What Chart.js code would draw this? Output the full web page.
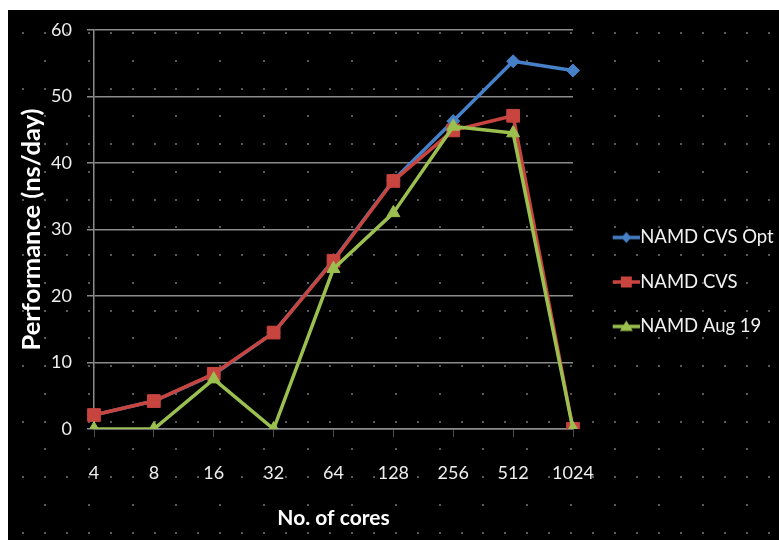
<!DOCTYPE html>
<html>
<head>
<meta charset="utf-8">
<script src="https://cdn.jsdelivr.net/npm/chart.js@4/dist/chart.umd.min.js"></script>
<style>
  html, body { margin: 0; padding: 0; background: #ffffff; }
  #frame { position: absolute; left: 8px; top: 10px; width: 771px; height: 530px; background: #000000; }
  canvas { display: block; }
</style>
</head>
<body>
<div id="frame"><canvas id="chart" width="771" height="530"></canvas></div>
<script>
// Core counts on the x axis
const coreCounts = ['4', '8', '16', '32', '64', '128', '256', '512', '1024'];

// Performance in ns/day for each build
const seriesNames = ['NAMD CVS Opt', 'NAMD CVS', 'NAMD Aug 19'];
const namdCvsOpt = [2.1, 4.2, 8.2, 14.5, 25.4, 37.4, 46.3, 55.3, 53.9];
const namdCvs    = [2.1, 4.2, 8.3, 14.5, 25.3, 37.3, 44.9, 47.1, 0];
const namdAug19  = [0, 0, 7.5, 0, 24.1, 32.5, 45.5, 44.5, 0];

// y axis tick values
const yTickValues = [0, 10, 20, 30, 40, 50, 60];

const colors = ['#4680C6', '#C8443F', '#9BC04F'];
const pointStyles = ['rectRot', 'rect', 'triangle'];
const pointRadii = [6.5, 9, 7.5];
const gridColor = '#8c8c8c';
const textColor = '#eeeeee';

// Dotted backdrop behind the whole chart
const dotPattern = {
  id: 'dotPattern',
  beforeDraw(chart) {
    const { ctx, width, height } = chart;
    ctx.save();
    ctx.fillStyle = '#000000';
    ctx.fillRect(0, 0, width, height);
    ctx.fillStyle = '#a0a0a0';
    const ox = -7, oy = 23, dx = 21.93, dy = 27.76;
    for (let j = 0; oy + j * dy < height; j++) {
      const y = oy + j * dy;
      for (let k = 0; ox + k * dx < width; k++) {
        if (j % 2 === 1 && k % 2 === 1) continue;
        const x = ox + k * dx;
        if (x < 0) continue;
        ctx.fillRect(Math.round(x) - 0.75, Math.round(y) - 0.75, 1.5, 1.5);
      }
    }
    ctx.restore();
  }
};

// Legend glyph: a short line with the series marker on it
const legendPad = 26;
const legendBoxWidth = 32;
function legendIcon(color, style) {
  const c = document.createElement('canvas');
  c.width = 52; c.height = 20;
  const g = c.getContext('2d');
  const x0 = 23.7, x1 = 51, cy = 10, cx = (x0 + x1) / 2;
  g.strokeStyle = color;
  g.fillStyle = color;
  g.lineWidth = 3.5;
  g.beginPath(); g.moveTo(x0, cy); g.lineTo(x1, cy); g.stroke();
  g.beginPath();
  if (style === 'rectRot') {
    g.moveTo(cx, cy - 5.5); g.lineTo(cx + 5, cy); g.lineTo(cx, cy + 5.5); g.lineTo(cx - 5, cy);
  } else if (style === 'rect') {
    g.rect(cx - 5.5, cy - 5.5, 11, 11);
  } else {
    g.moveTo(cx, cy - 6); g.lineTo(cx + 6.5, cy + 4.5); g.lineTo(cx - 6.5, cy + 4.5);
  }
  g.closePath();
  g.fill();
  return c;
}
const legendIcons = colors.map((c, i) => legendIcon(c, pointStyles[i]));

const seriesValues = [namdCvsOpt, namdCvs, namdAug19];
const datasets = seriesValues.map((vals, i) => ({
  label: seriesNames[i],
  data: vals,
  borderColor: colors[i],
  backgroundColor: colors[i],
  borderWidth: 3.5,
  borderJoinStyle: 'round',
  borderCapStyle: 'round',
  pointStyle: pointStyles[i],
  pointRadius: pointRadii[i],
  pointBorderWidth: 1,
  pointBorderColor: colors[i],
  pointBackgroundColor: colors[i],
  tension: 0,
  order: 3 - i
}));

new Chart(document.getElementById('chart'), {
  type: 'line',
  data: { labels: coreCounts, datasets },
  plugins: [dotPattern],
  options: {
    responsive: false,
    animation: false,
    devicePixelRatio: 1,
    events: [],
    layout: { padding: { left: 0, top: 20, right: 0, bottom: 6 } },
    scales: {
      x: {
        offset: false,
        afterFit: s => { s.height = 105; },
        grid: { drawOnChartArea: false, drawTicks: true, tickLength: 8, color: '#4a4a4a', lineWidth: 1 },
        border: { display: true, color: gridColor, width: 1.5 },
        ticks: { color: textColor, padding: 25, maxRotation: 0, autoSkip: false, font: { family: 'Lato', size: 18 } },
        title: {
          display: true, text: 'No. of cores', color: '#ffffff',
          font: { family: 'Lato', size: 21, weight: 'bold' },
          padding: { top: 0, bottom: 3 }
        }
      },
      y: {
        min: 0, max: 60,
        afterFit: s => { s.width = 86; s.paddingTop = 0; s.paddingBottom = 0; },
        afterBuildTicks: s => { s.ticks = yTickValues.map(v => ({ value: v })); },
        grid: { color: gridColor, lineWidth: 1.5, drawTicks: true, tickLength: 7 },
        border: { display: true, color: gridColor, width: 1.5 },
        ticks: { color: textColor, padding: 15, font: { family: 'Lato', size: 18 } },
        title: {
          display: true, text: 'Performance (ns/day)', color: '#ffffff',
          font: { family: 'Lato', size: 25.5, weight: 'bold' },
          padding: { top: 8, bottom: 0 }
        }
      }
    },
    plugins: {
      tooltip: { enabled: false },
      legend: {
        position: 'right',
        maxWidth: 206,
        labels: {
          usePointStyle: true,
          pointStyleWidth: legendBoxWidth,
          padding: legendPad,
          color: '#f2f2f2',
          font: { family: 'Lato', size: 18.5 },
          sort: (a, b) => a.datasetIndex - b.datasetIndex,
          generateLabels(chart) {
            const items = Chart.defaults.plugins.legend.labels.generateLabels(chart);
            items.forEach(it => { it.pointStyle = legendIcons[it.datasetIndex]; });
            return items;
          }
        }
      }
    }
  }
});
</script>
</body>
</html>
